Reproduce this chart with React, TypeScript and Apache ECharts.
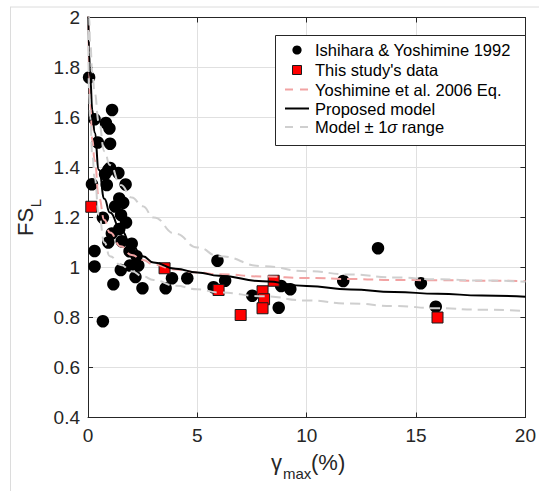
import React, { useEffect, useRef } from "react";
import * as echarts from "echarts";

// Ishihara & Yoshimine 1992 (black circles)
const ishiharaX = [0.05, 0.3, 0.82, 0.98, 1.1, 0.45, 1.01, 0.93, 1.01, 1.39, 1.72, 0.18, 0.86, 0.78, 1.24, 1.43, 1.61, 1.51, 1.74, 0.68, 1.09, 1.43, 0.93, 1.54, 2.0, 0.3, 1.9, 2.22, 2.3, 0.3, 1.5, 1.92, 2.17, 1.16, 2.49, 0.68, 3.84, 4.54, 3.55, 5.92, 6.27, 5.74, 7.51, 8.83, 9.25, 8.72, 11.67, 13.26, 15.22, 15.9];
const ishiharaY = [1.76, 1.593, 1.578, 1.556, 1.63, 1.5, 1.495, 1.39, 1.398, 1.378, 1.332, 1.333, 1.33, 1.373, 1.244, 1.276, 1.259, 1.21, 1.18, 1.199, 1.136, 1.154, 1.1, 1.105, 1.095, 1.066, 1.065, 1.045, 1.008, 1.004, 0.99, 1.008, 0.962, 0.933, 0.917, 0.785, 0.957, 0.957, 0.917, 1.027, 0.947, 0.921, 0.887, 0.926, 0.913, 0.839, 0.946, 1.077, 0.937, 0.843];

// This study's data (red squares)
const studyX = [0.15, 3.5, 5.97, 6.98, 8.49, 7.98, 8.05, 7.98, 15.98];
const studyY = [1.243, 0.997, 0.91, 0.81, 0.947, 0.905, 0.873, 0.837, 0.8];

// Curves
const curveX = [0.01, 0.05, 0.1, 0.2, 0.3, 0.5, 0.75, 1, 1.5, 2, 2.5, 3, 4, 5, 6, 8, 10, 12, 14, 16, 18, 20];
const yoshimineY = [2.1, 1.8, 1.66, 1.51, 1.43, 1.28, 1.19, 1.14, 1.085, 1.05, 1.03, 1.012, 0.992, 0.98, 0.973, 0.964, 0.958, 0.954, 0.95, 0.949, 0.947, 0.946];
const proposedY = [2.05, 1.86, 1.76, 1.63, 1.54, 1.39, 1.275, 1.22, 1.15, 1.088, 1.045, 1.02, 0.995, 0.98, 0.967, 0.945, 0.926, 0.912, 0.902, 0.895, 0.888, 0.883];
const upperY = [2.2, 2.0, 1.9, 1.78, 1.7, 1.58, 1.465, 1.41, 1.33, 1.28, 1.245, 1.2, 1.135, 1.08, 1.045, 1.005, 0.985, 0.972, 0.96, 0.953, 0.948, 0.943];
const lowerY = [1.95, 1.7, 1.6, 1.45, 1.36, 1.21, 1.1, 1.045, 1.01, 0.985, 0.965, 0.95, 0.927, 0.913, 0.9, 0.885, 0.868, 0.856, 0.846, 0.837, 0.831, 0.826];

const X_MIN = 0, X_MAX = 20, X_STEP = 5;
const Y_MIN = 0.4, Y_MAX = 2, Y_STEP = 0.2;

const NAMES = [
  "Ishihara & Yoshimine 1992",
  "This study's data",
  "Yoshimine et al. 2006 Eq.",
  "Proposed model",
  "Model ± 1σ range",
];

const FONT = '"Liberation Sans", Arial, Helvetica, sans-serif';
const AX = "#262626";
const RED_DASH = "#f2a3a3";
const GRAY_DASH = "#cfcfcf";

const pairs = (xs: number[], ys: number[]) => xs.map((x, i) => [x, ys[i]]);

function legendGraphics() {
  const boxX = 275, boxY = 35, boxW = 250, boxH = 110;
  const rows = [50, 70, 89.5, 108.5, 127];
  const iconL = 285, iconR = 309, iconC = 297, textX = 315;
  const z = 100;
  const els: any[] = [
    { type: "rect", z, shape: { x: boxX + 0.5, y: boxY + 0.5, width: boxW, height: boxH }, style: { fill: "#ffffff", stroke: AX, lineWidth: 1 } },
    { type: "circle", z, shape: { cx: iconC, cy: rows[0], r: 4.6 }, style: { fill: "#000000" } },
    { type: "rect", z, shape: { x: iconC - 4.5, y: rows[1] - 4.5, width: 9, height: 9 }, style: { fill: "#ff0000", stroke: "#1a1a1a", lineWidth: 1 } },
    { type: "line", z, shape: { x1: iconL, y1: rows[2], x2: iconR, y2: rows[2] }, style: { stroke: RED_DASH, lineWidth: 2, lineDash: [8, 7] } },
    { type: "line", z, shape: { x1: iconL, y1: rows[3], x2: iconR, y2: rows[3] }, style: { stroke: "#000000", lineWidth: 2 } },
    { type: "line", z, shape: { x1: iconL, y1: rows[4], x2: iconR, y2: rows[4] }, style: { stroke: GRAY_DASH, lineWidth: 2, lineDash: [8, 7] } },
  ];
  NAMES.forEach((name, i) => {
    const isSigma = name.indexOf("σ") >= 0;
    els.push({
      type: "text", z: z + 1, x: textX, y: rows[i],
      style: {
        text: isSigma ? "{n|Model ± 1}{i|σ}{n| range}" : name,
        font: `16.5px ${FONT}`, fill: "#000000",
        textAlign: "left", textVerticalAlign: "middle",
        rich: {
          n: { fontSize: 16.5, fontFamily: FONT, fill: "#000000" },
          i: { fontSize: 16.5, fontFamily: FONT, fontStyle: "italic", fill: "#000000" },
        },
      },
    });
  });
  return els;
}

export default function App() {
  const ref = useRef<HTMLDivElement>(null);
  useEffect(() => {
    if (!ref.current) return;
    const chart = echarts.init(ref.current, undefined, { renderer: "svg" });
    const axisCommon = {
      type: "value" as const,
      axisLine: { show: true, onZero: false, lineStyle: { color: AX, width: 1 } },
      axisTick: { show: true, inside: true, length: 5, lineStyle: { color: AX, width: 1 } },
    };
    const dashGray = { color: GRAY_DASH, width: 2, type: [10, 6] as any };
    chart.setOption({
      animation: false,
      backgroundColor: "#ffffff",
      textStyle: { fontFamily: FONT },
      grid: { left: 88, right: 10, top: 17.5, bottom: 73.5, containLabel: false },
      xAxis: [
        {
          ...axisCommon,
          min: X_MIN, max: X_MAX, interval: X_STEP, position: "bottom",
          axisLabel: { fontSize: 19, color: AX, margin: 8, fontFamily: FONT },
          splitLine: { show: true, lineStyle: { color: "#e0e0e0", width: 1 } },
        },
        {
          ...axisCommon,
          min: X_MIN, max: X_MAX, interval: X_STEP, position: "top",
          axisLabel: { show: false }, splitLine: { show: false },
        },
      ],
      yAxis: [
        {
          ...axisCommon,
          min: Y_MIN, max: Y_MAX, interval: Y_STEP, position: "left",
          axisLabel: { fontSize: 19, color: AX, margin: 8, fontFamily: FONT },
          splitLine: { show: true, lineStyle: { color: "#e0e0e0", width: 1 } },
        },
        {
          ...axisCommon,
          min: Y_MIN, max: Y_MAX, interval: Y_STEP, position: "right",
          axisLabel: { show: false }, splitLine: { show: false },
        },
      ],
      series: [
        {
          name: NAMES[0], type: "scatter", symbol: "circle", symbolSize: 12.5,
          itemStyle: { color: "#000000", opacity: 1 },
          data: pairs(ishiharaX, ishiharaY),
        },
        {
          name: NAMES[1], type: "scatter", symbol: "rect", symbolSize: 11,
          itemStyle: { color: "#ff0000", borderColor: "#1a1a1a", borderWidth: 1, opacity: 1 },
          data: pairs(studyX, studyY),
        },
        {
          name: NAMES[2], type: "line", symbol: "none", smooth: true, smoothMonotone: "x",
          lineStyle: { color: RED_DASH, width: 2, type: [10, 6] },
          data: pairs(curveX, yoshimineY),
        },
        {
          name: NAMES[3], type: "line", symbol: "none", smooth: true, smoothMonotone: "x",
          lineStyle: { color: "#000000", width: 2 },
          data: pairs(curveX, proposedY),
        },
        {
          name: NAMES[4], type: "line", symbol: "none", smooth: true, smoothMonotone: "x",
          lineStyle: dashGray,
          data: pairs(curveX, upperY),
        },
        {
          name: NAMES[4], type: "line", symbol: "none", smooth: true, smoothMonotone: "x",
          lineStyle: dashGray,
          data: pairs(curveX, lowerY),
        },
      ],
      graphic: [
        { type: "line", shape: { x1: 10, y1: 7, x2: 539, y2: 7 }, style: { stroke: "#dcdcdc", lineWidth: 1 }, silent: true },
        { type: "line", shape: { x1: 10.5, y1: 7, x2: 10.5, y2: 491 }, style: { stroke: "#dcdcdc", lineWidth: 1 }, silent: true },
        {
          type: "text", x: 25, y: 222, rotation: Math.PI / 2,
          style: { text: "FS", font: `22px ${FONT}`, fill: AX, textAlign: "center", textVerticalAlign: "middle" },
        },
        {
          type: "text", x: 35, y: 203, rotation: Math.PI / 2,
          style: { text: "L", font: `15px ${FONT}`, fill: AX, textAlign: "center", textVerticalAlign: "middle" },
        },
        {
          type: "text", x: 271, y: 462,
          style: { text: "γ", font: `22px ${FONT}`, fill: AX, textAlign: "left", textVerticalAlign: "middle" },
        },
        {
          type: "text", x: 283, y: 473,
          style: { text: "max", font: `15px ${FONT}`, fill: AX, textAlign: "left", textVerticalAlign: "middle" },
        },
        {
          type: "text", x: 311, y: 462,
          style: { text: "(%)", font: `22px ${FONT}`, fill: AX, textAlign: "left", textVerticalAlign: "middle" },
        },
        ...legendGraphics(),
      ],
    });
    return () => chart.dispose();
  }, []);
  return (
    <div
      ref={ref}
      style={{ position: "fixed", left: 0, top: 0, width: 539, height: 491, background: "#fff" }}
    />
  );
}
